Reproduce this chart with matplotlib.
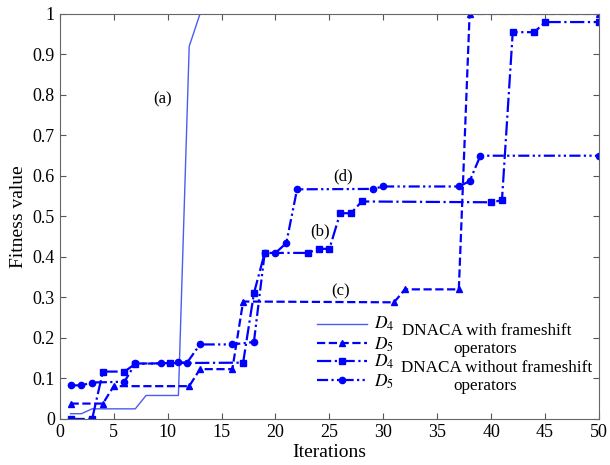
import matplotlib
matplotlib.use("Agg")
import matplotlib.pyplot as plt
from matplotlib.lines import Line2D

plt.rcParams['font.family'] = ['Liberation Serif', 'DejaVu Serif']
plt.rcParams['mathtext.fontset'] = 'stix'

# (a) D4 with frameshift operators
a_x = [1, 2, 3, 7, 8, 11, 12, 13, 50]
a_y = [0.013, 0.013, 0.025, 0.025, 0.058, 0.058, 0.92, 1.0, 1.0]

# (c) D5 with frameshift operators
c_x = [1, 4, 5, 12, 13, 16, 17, 31, 32, 37, 38, 50]
c_y = [0.038, 0.038, 0.081, 0.081, 0.123, 0.123, 0.29, 0.288, 0.32, 0.32, 1.0, 1.0]

# (b) D4 without frameshift operators
b_x = [1, 3, 4, 6, 7, 10.2, 17, 18, 19, 23, 24, 25, 26, 27, 28, 40, 41, 42, 44, 45, 50]
b_y = [0.0, 0.0, 0.117, 0.117, 0.136, 0.138, 0.139, 0.31, 0.41, 0.41, 0.42, 0.42,
       0.508, 0.508, 0.537, 0.535, 0.54, 0.955, 0.955, 0.98, 0.98]

# (d) D5 without frameshift operators
d_x = [1, 2, 3, 6, 7, 9.4, 11, 11.8, 13, 16, 18, 19, 20, 21, 22, 29, 30, 37, 38, 39, 50]
d_y = [0.083, 0.083, 0.09, 0.092, 0.137, 0.137, 0.14, 0.139, 0.184, 0.184, 0.19, 0.41,
       0.41, 0.434, 0.567, 0.568, 0.574, 0.574, 0.587, 0.65, 0.65]

x_ticks = [0, 5, 10, 15, 20, 25, 30, 35, 40, 45, 50]
y_ticks = [0, 0.1, 0.2, 0.3, 0.4, 0.5, 0.6, 0.7, 0.8, 0.9, 1]
y_tick_labels = ['0', '0.1', '0.2', '0.3', '0.4', '0.5', '0.6', '0.7', '0.8', '0.9', '1']

blue = '#0000ff'
light_blue = '#4a5cf2'
dashdotdot = (0, (5, 1.5, 1, 1.5, 1, 1.5))

fig = plt.figure(figsize=(6.1, 4.65), dpi=100)
ax = fig.add_axes([0.098, 0.099, 0.884, 0.871])

ax.plot(a_x, a_y, color=light_blue, lw=1.0)
ax.plot(c_x, c_y, color=blue, lw=1.6, ls='--', marker='^', ms=5)
ax.plot(b_x, b_y, color=blue, lw=1.6, ls='-.', marker='s', ms=4.5)
ax.plot(d_x, d_y, color=blue, lw=1.6, ls=dashdotdot, marker='o', ms=4.5)

ax.set_xlim(0, 50)
ax.set_ylim(0, 1)
ax.set_xticks(x_ticks)
ax.set_yticks(y_ticks)
ax.set_yticklabels(y_tick_labels)
ax.tick_params(direction='in', top=True, right=True, labelsize=13, length=4, color='#555555')
for s in ax.spines.values():
    s.set_color('#666666')
ax.set_xlabel('Iterations', fontsize=14, labelpad=2)
ax.set_ylabel('Fitness value', fontsize=14, labelpad=4)

ax.text(9.55, 0.788, '(a)', fontsize=12, ha='center', va='center')
ax.text(24.1, 0.462, '(b)', fontsize=12, ha='center', va='center')
ax.text(26.0, 0.314, '(c)', fontsize=12, ha='center', va='center')
ax.text(26.3, 0.598, '(d)', fontsize=12, ha='center', va='center')

# legend: two groups of two rows, labels written separately
h_with = [Line2D([], [], color=light_blue, lw=1.0),
          Line2D([], [], color=blue, lw=1.6, ls='--', marker='^', ms=5)]
h_without = [Line2D([], [], color=blue, lw=1.6, ls='-.', marker='s', ms=4.5),
             Line2D([], [], color=blue, lw=1.6, ls=dashdotdot, marker='o', ms=4.5)]
leg_kw = dict(loc='center left', frameon=False, fontsize=10, handlelength=3.6,
              handletextpad=0, labelspacing=0.42, borderpad=0, borderaxespad=0)
leg1 = ax.legend(h_with, ['', ''], bbox_to_anchor=(0.477, 0.2086), **leg_kw)
ax.add_artist(leg1)
ax.legend(h_without, ['', ''], bbox_to_anchor=(0.477, 0.116), **leg_kw)

for lab, yy in zip(['$D_4$', '$D_5$', '$D_4$', '$D_5$'], [0.235, 0.184, 0.140, 0.092]):
    ax.text(0.583, yy, lab, transform=ax.transAxes, fontsize=12.5, ha='left', va='center')

ax.text(0.792, 0.218, 'DNACA with frameshift', transform=ax.transAxes, fontsize=12.3, ha='center', va='center')
ax.text(0.789, 0.173, 'operators', transform=ax.transAxes, fontsize=12.3, ha='center', va='center')
ax.text(0.810, 0.126, 'DNACA without frameshift', transform=ax.transAxes, fontsize=12.3, ha='center', va='center')
ax.text(0.789, 0.081, 'operators', transform=ax.transAxes, fontsize=12.3, ha='center', va='center')

fig.savefig('out.png', dpi=100)
